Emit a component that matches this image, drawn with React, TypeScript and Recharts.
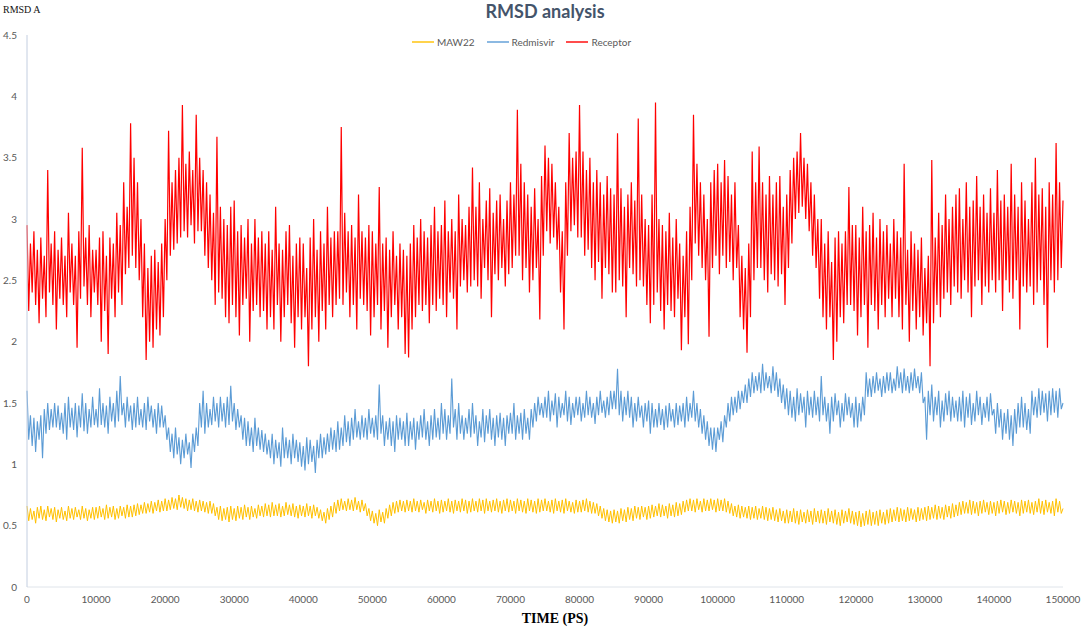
import { LineChart, Line, XAxis, YAxis, Legend } from 'recharts';

// sampling step of the trajectories (ps)
const STEP = 250;

const X_TICKS = [0, 10000, 20000, 30000, 40000, 50000, 60000, 70000, 80000, 90000, 100000, 110000, 120000, 130000, 140000, 150000];
const Y_TICKS = [0, 0.5, 1, 1.5, 2, 2.5, 3, 3.5, 4, 4.5];

// every 250 ps, one row = 5000 ps
const MAW22 = [
  0.66, 0.54, 0.64, 0.55, 0.62, 0.52, 0.65, 0.56, 0.66, 0.55, 0.63, 0.54, 0.66, 0.57, 0.64, 0.55, 0.65, 0.53, 0.63, 0.56,
  0.65, 0.55, 0.62, 0.54, 0.66, 0.56, 0.64, 0.55, 0.65, 0.57, 0.63, 0.55, 0.66, 0.56, 0.64, 0.54, 0.63, 0.56, 0.65, 0.55,
  0.65, 0.56, 0.66, 0.57, 0.64, 0.55, 0.67, 0.56, 0.65, 0.57, 0.66, 0.55, 0.64, 0.56, 0.66, 0.58, 0.65, 0.56, 0.67, 0.57,
  0.66, 0.57, 0.67, 0.58, 0.68, 0.59, 0.67, 0.6, 0.69, 0.6, 0.68, 0.61, 0.7, 0.6, 0.69, 0.62, 0.71, 0.61, 0.7, 0.62,
  0.72, 0.62, 0.71, 0.63, 0.73, 0.64, 0.72, 0.63, 0.75, 0.65, 0.73, 0.64, 0.72, 0.62, 0.71, 0.63, 0.72, 0.62, 0.7, 0.61,
  0.71, 0.62, 0.7, 0.61, 0.69, 0.6, 0.7, 0.6, 0.68, 0.58, 0.65, 0.55, 0.66, 0.54, 0.64, 0.55, 0.65, 0.53, 0.66, 0.55,
  0.64, 0.54, 0.66, 0.56, 0.65, 0.55, 0.67, 0.57, 0.65, 0.55, 0.66, 0.57, 0.64, 0.56, 0.67, 0.58, 0.66, 0.57, 0.68, 0.58,
  0.67, 0.57, 0.69, 0.58, 0.67, 0.58, 0.68, 0.57, 0.66, 0.58, 0.69, 0.59, 0.67, 0.58, 0.68, 0.57, 0.66, 0.56, 0.67, 0.58,
  0.66, 0.57, 0.68, 0.58, 0.66, 0.56, 0.67, 0.58, 0.65, 0.56, 0.63, 0.54, 0.61, 0.52, 0.64, 0.55, 0.66, 0.57, 0.69, 0.6,
  0.71, 0.62, 0.72, 0.63, 0.7, 0.62, 0.72, 0.63, 0.71, 0.62, 0.73, 0.63, 0.7, 0.61, 0.71, 0.62, 0.68, 0.58, 0.64, 0.54,
  0.62, 0.52, 0.6, 0.5, 0.63, 0.53, 0.61, 0.52, 0.64, 0.56, 0.67, 0.58, 0.69, 0.6, 0.7, 0.61, 0.71, 0.62, 0.7, 0.61,
  0.71, 0.62, 0.7, 0.61, 0.72, 0.62, 0.7, 0.61, 0.71, 0.63, 0.69, 0.6, 0.71, 0.62, 0.7, 0.61, 0.72, 0.62, 0.7, 0.6,
  0.71, 0.61, 0.7, 0.62, 0.72, 0.61, 0.7, 0.6, 0.71, 0.62, 0.7, 0.61, 0.72, 0.62, 0.71, 0.6, 0.7, 0.61, 0.72, 0.62,
  0.7, 0.61, 0.72, 0.62, 0.71, 0.6, 0.72, 0.62, 0.7, 0.61, 0.71, 0.62, 0.72, 0.61, 0.7, 0.6, 0.71, 0.62, 0.72, 0.61,
  0.71, 0.62, 0.7, 0.6, 0.72, 0.62, 0.71, 0.61, 0.7, 0.6, 0.72, 0.62, 0.71, 0.61, 0.7, 0.6, 0.72, 0.61, 0.71, 0.62,
  0.72, 0.62, 0.7, 0.61, 0.71, 0.6, 0.72, 0.62, 0.7, 0.61, 0.71, 0.6, 0.72, 0.62, 0.7, 0.61, 0.69, 0.6, 0.71, 0.61,
  0.7, 0.61, 0.71, 0.62, 0.72, 0.61, 0.7, 0.6, 0.69, 0.6, 0.68, 0.58, 0.66, 0.56, 0.64, 0.54, 0.63, 0.53, 0.62, 0.52,
  0.63, 0.53, 0.62, 0.52, 0.64, 0.54, 0.63, 0.53, 0.65, 0.55, 0.64, 0.54, 0.66, 0.56, 0.65, 0.55, 0.66, 0.57, 0.65, 0.55,
  0.66, 0.56, 0.67, 0.57, 0.66, 0.58, 0.68, 0.57, 0.67, 0.58, 0.66, 0.56, 0.68, 0.58, 0.67, 0.57, 0.69, 0.58, 0.68, 0.59,
  0.7, 0.61, 0.71, 0.62, 0.72, 0.62, 0.71, 0.61, 0.72, 0.63, 0.7, 0.61, 0.72, 0.62, 0.71, 0.62, 0.72, 0.63, 0.71, 0.61,
  0.72, 0.62, 0.71, 0.62, 0.72, 0.61, 0.7, 0.6, 0.68, 0.58, 0.66, 0.57, 0.67, 0.56, 0.66, 0.57, 0.65, 0.56, 0.66, 0.55,
  0.65, 0.56, 0.66, 0.55, 0.64, 0.56, 0.66, 0.55, 0.65, 0.54, 0.64, 0.55, 0.65, 0.54, 0.63, 0.53, 0.64, 0.54, 0.62, 0.52,
  0.63, 0.52, 0.62, 0.53, 0.64, 0.52, 0.62, 0.51, 0.63, 0.53, 0.61, 0.52, 0.63, 0.53, 0.62, 0.51, 0.64, 0.53, 0.62, 0.52,
  0.63, 0.52, 0.62, 0.51, 0.64, 0.53, 0.62, 0.52, 0.63, 0.51, 0.61, 0.5, 0.63, 0.52, 0.62, 0.53, 0.64, 0.52, 0.62, 0.51,
  0.61, 0.5, 0.62, 0.49, 0.6, 0.5, 0.62, 0.51, 0.63, 0.5, 0.61, 0.51, 0.62, 0.5, 0.63, 0.52, 0.61, 0.51, 0.63, 0.52,
  0.64, 0.53, 0.63, 0.54, 0.65, 0.53, 0.64, 0.54, 0.63, 0.53, 0.65, 0.54, 0.64, 0.55, 0.63, 0.53, 0.65, 0.54, 0.64, 0.55,
  0.65, 0.54, 0.66, 0.55, 0.65, 0.56, 0.67, 0.55, 0.66, 0.56, 0.65, 0.55, 0.67, 0.57, 0.66, 0.56, 0.68, 0.57, 0.67, 0.58,
  0.69, 0.59, 0.7, 0.6, 0.69, 0.6, 0.71, 0.59, 0.7, 0.6, 0.69, 0.58, 0.7, 0.6, 0.71, 0.61, 0.69, 0.59, 0.7, 0.6,
  0.69, 0.58, 0.7, 0.6, 0.71, 0.61, 0.7, 0.59, 0.69, 0.6, 0.71, 0.61, 0.7, 0.6, 0.69, 0.58, 0.71, 0.6, 0.7, 0.61,
  0.71, 0.6, 0.69, 0.59, 0.7, 0.61, 0.72, 0.6, 0.7, 0.59, 0.71, 0.61, 0.69, 0.6, 0.7, 0.58, 0.72, 0.61, 0.7, 0.6,
  0.64,
];

// every 250 ps, one row = 5000 ps
const REDMISVIR = [
  1.6, 1.2, 1.4, 1.15, 1.38, 1.1, 1.35, 1.2, 1.4, 1.05, 1.45, 1.25, 1.5, 1.28, 1.45, 1.3, 1.5, 1.3, 1.48, 1.28,
  1.42, 1.25, 1.5, 1.2, 1.55, 1.3, 1.46, 1.28, 1.5, 1.22, 1.48, 1.3, 1.58, 1.27, 1.5, 1.25, 1.45, 1.3, 1.55, 1.32,
  1.45, 1.3, 1.62, 1.32, 1.5, 1.3, 1.48, 1.25, 1.55, 1.35, 1.5, 1.3, 1.6, 1.35, 1.72, 1.4, 1.5, 1.3, 1.55, 1.35,
  1.48, 1.28, 1.5, 1.3, 1.55, 1.32, 1.45, 1.3, 1.5, 1.28, 1.55, 1.35, 1.48, 1.3, 1.45, 1.25, 1.5, 1.3, 1.48, 1.3,
  1.4, 1.2, 1.3, 1.1, 1.25, 1.05, 1.3, 1.08, 1.22, 1.0, 1.2, 1.05, 1.25, 1.08, 1.18, 0.97, 1.25, 1.1, 1.3, 1.15,
  1.5, 1.3, 1.6, 1.25, 1.5, 1.3, 1.45, 1.32, 1.55, 1.35, 1.5, 1.3, 1.55, 1.35, 1.5, 1.3, 1.55, 1.32, 1.64, 1.35,
  1.5, 1.28, 1.45, 1.3, 1.4, 1.2, 1.38, 1.15, 1.35, 1.15, 1.3, 1.1, 1.38, 1.15, 1.3, 1.12, 1.28, 1.1, 1.25, 1.08,
  1.2, 1.05, 1.25, 1.0, 1.2, 1.05, 1.18, 0.98, 1.3, 1.05, 1.22, 1.05, 1.2, 1.0, 1.25, 1.05, 1.2, 1.02, 1.18, 0.98,
  1.15, 0.95, 1.22, 1.0, 1.2, 1.02, 1.15, 0.93, 1.2, 1.05, 1.25, 1.05, 1.22, 1.08, 1.25, 1.1, 1.3, 1.12, 1.28, 1.1,
  1.35, 1.12, 1.3, 1.15, 1.4, 1.18, 1.35, 1.15, 1.38, 1.2, 1.45, 1.22, 1.35, 1.2, 1.4, 1.22, 1.38, 1.2, 1.45, 1.25,
  1.38, 1.22, 1.4, 1.2, 1.65, 1.25, 1.4, 1.15, 1.35, 1.2, 1.38, 1.15, 1.35, 1.1, 1.4, 1.2, 1.38, 1.2, 1.35, 1.15,
  1.42, 1.15, 1.35, 1.2, 1.38, 1.12, 1.35, 1.2, 1.4, 1.22, 1.45, 1.2, 1.35, 1.15, 1.4, 1.2, 1.45, 1.22, 1.38, 1.2,
  1.5, 1.25, 1.45, 1.2, 1.4, 1.25, 1.7, 1.3, 1.45, 1.2, 1.5, 1.25, 1.4, 1.2, 1.38, 1.25, 1.45, 1.22, 1.5, 1.25,
  1.4, 1.15, 1.35, 1.22, 1.45, 1.18, 1.4, 1.25, 1.45, 1.2, 1.38, 1.15, 1.4, 1.22, 1.42, 1.2, 1.38, 1.15, 1.4, 1.25,
  1.42, 1.25, 1.5, 1.2, 1.4, 1.25, 1.42, 1.2, 1.45, 1.25, 1.38, 1.2, 1.45, 1.3, 1.5, 1.35, 1.55, 1.4, 1.5, 1.38,
  1.55, 1.38, 1.6, 1.35, 1.52, 1.4, 1.58, 1.3, 1.55, 1.38, 1.5, 1.4, 1.6, 1.35, 1.55, 1.32, 1.5, 1.38, 1.55, 1.4,
  1.55, 1.35, 1.5, 1.38, 1.6, 1.4, 1.55, 1.38, 1.5, 1.33, 1.55, 1.4, 1.6, 1.42, 1.52, 1.38, 1.55, 1.4, 1.6, 1.45,
  1.6, 1.45, 1.78, 1.4, 1.6, 1.35, 1.55, 1.4, 1.6, 1.38, 1.55, 1.3, 1.5, 1.35, 1.55, 1.38, 1.48, 1.3, 1.5, 1.35,
  1.52, 1.25, 1.5, 1.3, 1.45, 1.3, 1.5, 1.32, 1.45, 1.28, 1.48, 1.3, 1.5, 1.35, 1.45, 1.3, 1.5, 1.32, 1.48, 1.35,
  1.5, 1.3, 1.55, 1.35, 1.5, 1.38, 1.6, 1.35, 1.5, 1.3, 1.45, 1.25, 1.4, 1.2, 1.35, 1.15, 1.3, 1.12, 1.3, 1.1,
  1.3, 1.2, 1.35, 1.18, 1.4, 1.3, 1.5, 1.35, 1.55, 1.4, 1.55, 1.42, 1.6, 1.45, 1.6, 1.5, 1.65, 1.5, 1.7, 1.55,
  1.75, 1.58, 1.72, 1.6, 1.75, 1.58, 1.82, 1.6, 1.75, 1.62, 1.72, 1.58, 1.8, 1.6, 1.75, 1.55, 1.7, 1.5, 1.65, 1.45,
  1.62, 1.4, 1.6, 1.38, 1.55, 1.35, 1.62, 1.4, 1.58, 1.42, 1.55, 1.3, 1.6, 1.4, 1.55, 1.38, 1.6, 1.4, 1.55, 1.35,
  1.72, 1.4, 1.55, 1.35, 1.5, 1.25, 1.55, 1.35, 1.58, 1.4, 1.52, 1.3, 1.5, 1.35, 1.58, 1.4, 1.55, 1.38, 1.5, 1.3,
  1.55, 1.3, 1.5, 1.35, 1.55, 1.4, 1.75, 1.55, 1.7, 1.55, 1.72, 1.58, 1.75, 1.6, 1.7, 1.55, 1.72, 1.58, 1.75, 1.6,
  1.75, 1.58, 1.7, 1.6, 1.8, 1.62, 1.75, 1.58, 1.78, 1.6, 1.72, 1.58, 1.75, 1.6, 1.78, 1.62, 1.72, 1.58, 1.75, 1.5,
  1.55, 1.2, 1.6, 1.4, 1.65, 1.35, 1.55, 1.4, 1.6, 1.3, 1.52, 1.35, 1.58, 1.4, 1.6, 1.35, 1.55, 1.38, 1.52, 1.35,
  1.55, 1.35, 1.6, 1.3, 1.55, 1.38, 1.58, 1.32, 1.5, 1.35, 1.6, 1.4, 1.55, 1.32, 1.5, 1.38, 1.55, 1.35, 1.58, 1.4,
  1.45, 1.25, 1.5, 1.3, 1.45, 1.2, 1.42, 1.25, 1.45, 1.2, 1.4, 1.15, 1.45, 1.25, 1.5, 1.3, 1.55, 1.3, 1.5, 1.28,
  1.45, 1.25, 1.6, 1.4, 1.55, 1.38, 1.62, 1.4, 1.6, 1.42, 1.58, 1.35, 1.6, 1.4, 1.62, 1.42, 1.6, 1.38, 1.62, 1.45,
  1.5,
];

// every 250 ps, one row = 5000 ps
const RECEPTOR = [
  2.95, 2.25, 2.8, 2.4, 2.9, 2.3, 2.75, 2.15, 2.85, 2.35, 2.7, 2.2, 3.4, 2.4, 2.8, 2.3, 2.9, 2.1, 2.75, 2.35,
  2.85, 2.3, 2.7, 2.2, 3.05, 2.4, 2.8, 2.3, 2.7, 1.95, 2.9, 2.35, 3.58, 2.45, 2.85, 2.3, 2.95, 2.2, 2.75, 2.4,
  2.75, 2.3, 2.85, 2.0, 2.9, 2.25, 2.7, 1.9, 2.85, 2.35, 2.8, 2.2, 3.05, 2.4, 2.95, 2.3, 3.3, 2.55, 3.1, 2.6,
  3.78, 2.7, 3.5, 2.6, 3.3, 2.5, 3.0, 2.2, 2.8, 1.85, 2.6, 2.0, 2.7, 1.95, 2.75, 2.1, 2.65, 2.05, 2.8, 2.2,
  3.0, 2.5, 3.72, 2.7, 3.3, 2.75, 3.4, 2.8, 3.5, 2.85, 3.93, 2.9, 3.45, 2.85, 3.55, 2.95, 3.4, 2.8, 3.85, 2.9,
  3.5, 2.9, 3.4, 2.7, 3.3, 2.6, 3.2, 2.5, 3.05, 2.3, 3.67, 2.4, 3.1, 2.35, 3.0, 2.2, 2.95, 2.15, 3.1, 2.3,
  3.15, 2.2, 2.9, 2.05, 2.95, 2.3, 2.85, 2.35, 3.0, 2.0, 2.8, 2.25, 3.0, 2.3, 2.85, 2.2, 2.9, 2.25, 2.8, 2.1,
  2.9, 2.2, 2.75, 2.1, 3.1, 2.3, 2.8, 2.0, 2.75, 2.2, 2.9, 2.3, 2.95, 2.15, 2.7, 1.95, 2.8, 2.2, 2.85, 2.1,
  2.8, 2.2, 2.6, 1.8, 2.85, 2.1, 3.0, 2.2, 2.75, 2.0, 2.9, 2.25, 2.8, 2.1, 3.1, 2.3, 2.85, 2.2, 2.9, 2.3,
  2.9, 2.35, 3.75, 2.3, 3.05, 2.4, 2.9, 2.2, 2.95, 2.3, 2.85, 2.1, 3.2, 2.35, 2.9, 2.3, 2.85, 2.25, 2.95, 2.05,
  2.9, 2.2, 2.8, 2.3, 3.26, 2.1, 2.8, 2.25, 2.85, 1.95, 2.75, 2.2, 2.9, 2.3, 2.7, 2.1, 2.8, 2.2, 2.75, 1.9,
  2.7, 1.87, 2.8, 2.1, 2.95, 2.2, 2.85, 2.3, 3.0, 2.25, 2.9, 2.3, 2.85, 2.15, 2.95, 2.3, 3.1, 2.25, 2.9, 2.35,
  2.95, 2.3, 3.15, 2.2, 2.9, 2.4, 3.0, 2.35, 2.9, 2.1, 3.2, 2.45, 3.0, 2.5, 2.95, 2.4, 3.1, 2.45, 3.42, 2.5,
  3.1, 2.45, 3.3, 2.35, 3.0, 2.6, 3.15, 2.5, 3.25, 2.2, 3.05, 2.55, 3.15, 2.5, 3.2, 2.6, 3.0, 2.45, 3.15, 2.55,
  3.3, 2.6, 3.2, 2.7, 3.89, 2.7, 3.45, 2.5, 3.3, 2.6, 3.2, 2.4, 3.1, 2.5, 3.25, 2.6, 3.0, 2.18, 3.35, 2.7,
  3.6, 2.9, 3.5, 2.8, 3.45, 2.85, 3.3, 2.75, 3.1, 2.4, 2.9, 2.1, 3.3, 2.7, 3.7, 2.9, 3.5, 2.95, 3.55, 2.85,
  3.93, 2.85, 3.55, 2.7, 3.4, 2.75, 3.5, 2.6, 3.3, 2.5, 3.4, 2.65, 3.3, 2.35, 3.2, 2.6, 3.35, 2.55, 3.25, 2.4,
  3.2, 2.4, 3.7, 2.5, 3.25, 2.45, 3.1, 2.2, 3.2, 2.6, 3.3, 2.55, 3.15, 2.45, 3.82, 2.5, 3.2, 2.45, 3.0, 2.3,
  2.95, 2.15, 3.2, 2.3, 3.95, 2.4, 3.0, 2.25, 2.95, 2.1, 2.9, 2.3, 3.05, 2.25, 2.85, 2.2, 3.0, 2.35, 2.8, 1.93,
  2.7, 2.2, 2.9, 1.98, 3.1, 2.5, 3.85, 2.8, 3.45, 2.7, 3.3, 2.6, 3.2, 2.5, 3.0, 2.04, 3.3, 2.6, 3.4, 2.7,
  3.45, 2.55, 3.3, 2.7, 3.48, 2.6, 3.35, 2.65, 3.2, 2.5, 3.3, 2.6, 2.95, 2.2, 2.7, 2.1, 2.6, 1.91, 2.8, 2.2,
  3.55, 2.5, 3.3, 2.6, 3.59, 2.6, 3.3, 2.5, 3.2, 2.4, 3.35, 2.55, 3.2, 2.5, 3.3, 2.45, 3.35, 2.55, 3.1, 2.3,
  3.2, 2.6, 3.4, 2.8, 3.5, 3.0, 3.55, 3.05, 3.7, 3.1, 3.5, 3.0, 3.45, 2.9, 3.3, 2.7, 3.2, 2.6, 3.0, 2.35,
  3.0, 2.2, 2.8, 2.1, 2.9, 2.2, 2.65, 1.85, 2.85, 2.0, 2.9, 2.2, 2.8, 2.15, 2.9, 2.3, 3.26, 2.3, 2.95, 2.25,
  2.95, 2.05, 2.85, 2.2, 3.1, 2.3, 2.9, 1.95, 2.95, 2.3, 3.05, 2.25, 2.85, 2.1, 3.0, 2.3, 2.9, 2.2, 2.95, 2.35,
  2.8, 2.2, 3.0, 2.35, 2.9, 2.2, 2.85, 2.1, 3.45, 2.3, 2.75, 2.0, 2.9, 2.25, 2.8, 2.1, 2.75, 2.2, 2.85, 2.05,
  2.6, 2.15, 2.7, 1.8, 3.48, 2.15, 2.85, 2.3, 3.05, 2.2, 2.95, 2.35, 3.2, 2.4, 3.0, 2.3, 3.1, 2.45, 3.2, 2.4,
  3.25, 2.35, 3.0, 2.5, 3.3, 2.4, 3.1, 2.2, 3.15, 2.45, 3.35, 2.5, 3.1, 2.3, 3.2, 2.45, 3.05, 2.4, 3.25, 2.5,
  3.05, 2.4, 3.4, 2.5, 3.15, 2.25, 3.2, 2.5, 3.1, 2.4, 3.45, 2.35, 3.2, 2.5, 3.1, 2.1, 3.3, 2.45, 3.15, 2.4,
  3.0, 2.45, 3.3, 2.3, 3.5, 2.4, 3.2, 2.5, 3.25, 2.3, 3.1, 1.95, 3.3, 2.5, 3.2, 2.4, 3.62, 2.5, 3.3, 2.6,
  3.15,
];

const toRows = (values: number[]) => values.map((v, i) => ({ t: i * STEP, v }));

const SERIES = [
  { key: 'maw22', name: 'MAW22', color: '#FFC000', width: 1, data: toRows(MAW22) },
  { key: 'redmisvir', name: 'Redmisvir', color: '#5B9BD5', width: 1.1, data: toRows(REDMISVIR) },
  { key: 'receptor', name: 'Receptor', color: '#FF0000', width: 1.2, data: toRows(RECEPTOR) },
];

const sans = 'Lato, "Liberation Sans", sans-serif';
const serif = '"Liberation Serif", "DejaVu Serif", serif';

const renderLegend = () => (
  <div style={{ display: 'flex', justifyContent: 'center', fontFamily: sans, fontSize: 10, color: '#595959' }}>
    {SERIES.map((s) => (
      <div key={s.key} style={{ display: 'flex', alignItems: 'center', marginRight: 12 }}>
        <span style={{ display: 'inline-block', width: 22, height: 2, background: s.color, opacity: 0.7, marginRight: 3 }} />
        <span>{s.name}</span>
      </div>
    ))}
  </div>
);

export default function App() {
  return (
    <div style={{ position: 'absolute', left: 0, top: 0, width: 1084, height: 633, background: '#fff' }}>
      <div style={{ position: 'absolute', left: 3, top: 4, fontFamily: serif, fontSize: 10, color: '#111' }}>RMSD A</div>
      <div style={{ position: 'absolute', left: 0, top: 0, width: 1090, textAlign: 'center', fontFamily: sans, fontWeight: 700, fontSize: 18, color: '#44546A' }}>
        RMSD analysis
      </div>
      <LineChart width={1084} height={633} margin={{ top: 35, right: 21, bottom: 26, left: 0 }}>
        <XAxis
          dataKey="t"
          type="number"
          domain={[0, 150000]}
          ticks={X_TICKS}
          interval={0}
          height={20}
          tickSize={0}
          tickMargin={9}
          tickLine={false}
          axisLine={{ stroke: '#dfe4ea' }}
          tick={{ fontSize: 10, fill: '#595959', fontFamily: sans }}
          allowDuplicatedCategory={false}
        />
        <YAxis
          type="number"
          domain={[0, 4.5]}
          ticks={Y_TICKS}
          interval={0}
          width={27}
          tickSize={0}
          tickMargin={10}
          tickLine={false}
          axisLine={{ stroke: '#c3cee0' }}
          tick={{ fontSize: 10, fill: '#595959', fontFamily: sans }}
        />
        <Legend verticalAlign="middle" wrapperStyle={{ top: 36, left: 0, width: 1055 }} content={renderLegend} />
        {SERIES.map((s) => (
          <Line
            key={s.key}
            data={s.data}
            type="linear"
            dataKey="v"
            name={s.name}
            stroke={s.color}
            strokeWidth={s.width}
            dot={false}
            activeDot={false}
            isAnimationActive={false}
          />
        ))}
      </LineChart>
      <div style={{ position: 'absolute', left: 0, top: 611, width: 1110, textAlign: 'center', fontFamily: serif, fontWeight: 700, fontSize: 14, color: '#000' }}>
        TIME (PS)
      </div>
    </div>
  );
}
